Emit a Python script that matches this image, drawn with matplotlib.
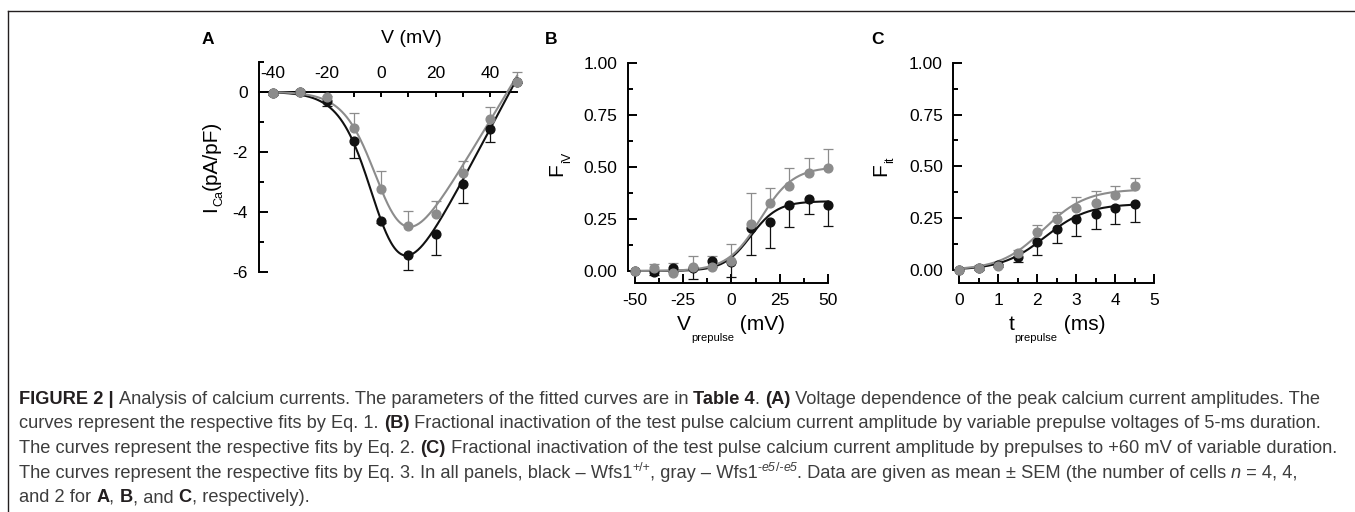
import numpy as np
import matplotlib
matplotlib.use("Agg")
import matplotlib.pyplot as plt
from matplotlib.font_manager import FontProperties
from matplotlib.lines import Line2D
from matplotlib.ticker import MultipleLocator, FixedLocator, FormatStrFormatter

# ---------------- data ----------------
# Panel A: current-voltage relation (pA/pF)
v_step = [-40, -30, -20, -10, 0, 10, 20, 30, 40, 50]
ica_wt = [-0.05, 0.00, -0.30, -1.65, -4.30, -5.43, -4.73, -3.08, -1.23, 0.33]
ica_wt_err = [0.05, 0.05, 0.17, 0.57, 0.08, 0.50, 0.70, 0.64, 0.45, 0.05]
ica_mut = [-0.05, 0.00, -0.18, -1.20, -3.24, -4.48, -4.08, -2.70, -0.91, 0.33]
ica_mut_err = [0.05, 0.05, 0.05, 0.48, 0.60, 0.51, 0.44, 0.38, 0.41, 0.34]
# fit parameters (Eq. 1): G, Vrev, V1/2, k
iv_fit_wt = [0.17, 47.4, -0.8, 6.0]
iv_fit_mut = [0.15, 46.5, 0.8, 6.0]

# Panel B: fractional inactivation vs prepulse voltage
v_pre = [-50, -40, -30, -20, -10, 0, 10, 20, 30, 40, 50]
fiv_wt = [0.000, -0.006, 0.016, 0.015, 0.048, 0.045, 0.205, 0.237, 0.317, 0.346, 0.318]
fiv_wt_err = [0.0, 0.015, 0.020, 0.055, 0.028, 0.075, 0.128, 0.128, 0.107, 0.071, 0.102]
fiv_mut = [0.000, 0.013, -0.011, 0.020, 0.020, 0.048, 0.224, 0.325, 0.410, 0.472, 0.493]
fiv_mut_err = [0.0, 0.022, 0.050, 0.052, 0.050, 0.080, 0.149, 0.072, 0.084, 0.070, 0.091]
# fit parameters (Eq. 2): Fmax, V1/2, k
fiv_fit_wt = [0.335, 10.0, 7.0]
fiv_fit_mut = [0.50, 15.0, 8.5]

# Panel C: fractional inactivation vs prepulse duration
t_pre = [0.0, 0.5, 1.0, 1.5, 2.0, 2.5, 3.0, 3.5, 4.0, 4.5]
fit_wt = [0.000, 0.008, 0.025, 0.061, 0.133, 0.196, 0.244, 0.268, 0.300, 0.317]
fit_wt_err = [0.0, 0.010, 0.012, 0.021, 0.061, 0.067, 0.080, 0.068, 0.080, 0.084]
fit_mut = [0.000, 0.011, 0.018, 0.080, 0.182, 0.246, 0.297, 0.325, 0.362, 0.405]
fit_mut_err = [0.0, 0.013, 0.010, 0.018, 0.035, 0.035, 0.053, 0.058, 0.043, 0.037]
# fit parameters (Eq. 3): Fmax, t1/2, k
ft_fit_wt = [0.32, 2.2, 0.55]
ft_fit_mut = [0.39, 2.15, 0.55]

# ---------------- style ----------------
W, H = 1355, 512
plt.rcParams['font.family'] = ['Liberation Sans', 'DejaVu Sans']
plt.rcParams['mathtext.fontset'] = 'custom'
plt.rcParams['mathtext.rm'] = 'Liberation Sans'
plt.rcParams['mathtext.it'] = 'Liberation Sans:italic'
plt.rcParams['mathtext.bf'] = 'Liberation Sans:bold'
plt.rcParams['axes.unicode_minus'] = False

BLACK = '#111111'
GRAY = '#8c8c8c'
TXT = '#3d3d3d'
BOLDTXT = '#231f20'
SPINE_W = 1.4
TICK_FS = 12.5
LABEL_FS = 15

fig = plt.figure(figsize=(W / 100, H / 100), dpi=100)
renderer = fig.canvas.get_renderer()


def px_axes(left, top, right, bottom):
    return fig.add_axes([left / W, 1 - bottom / H, (right - left) / W, (bottom - top) / H])


def iv_model(v, p):
    g, vrev, vh, k = p
    return g * (v - vrev) / (1 + np.exp((vh - v) / k))


def boltz(x, p):
    fmax, xh, k = p
    return fmax / (1 + np.exp((xh - x) / k))


def draw_series(ax, x, y, err, color, up, z):
    x = np.asarray(x, float)
    y = np.asarray(y, float)
    e = np.asarray(err, float)
    m = e > 0
    end = y + e if up else y - e
    ax.vlines(x[m], y[m], end[m], colors=color, lw=0.9, zorder=z, clip_on=False)
    ax.plot(x[m], end[m], ls='none', marker='_', ms=7.5, mew=0.9, color=color,
            zorder=z, clip_on=False)


def draw_points(ax, x, y, color, z):
    ax.plot(x, y, ls='none', marker='o', ms=6.3, color=color, mec=color, zorder=z,
            clip_on=False)


def seg_width(s, fp):
    w1 = renderer.get_text_width_height_descent("|" + s + "|", fp, ismath=False)[0]
    w0 = renderer.get_text_width_height_descent("||", fp, ismath=False)[0]
    return w1 - w0


def draw_rich(segs, x0, y0, align='left', rot=0):
    widths = [seg_width(s['t'], s['fp']) for s in segs]
    total = sum(widths)
    along = -total / 2 if align == 'center' else 0.0
    for s, w in zip(segs, widths):
        perp = s.get('dy', 0.0)
        if rot == 0:
            px, py = x0 + along, y0 - perp
        else:
            px, py = x0 - perp, y0 - along
        fig.text(px / W, 1 - py / H, s['t'], fontproperties=s['fp'], color=s.get('c', 'black'),
                 ha='left', va='baseline', rotation=rot, rotation_mode='anchor')
        along += w
    return total


def fp(size, weight='normal', style='normal', family='Liberation Sans'):
    return FontProperties(family=[family, 'DejaVu Sans'], size=size, weight=weight, style=style)


def style_ticks(ax):
    ax.tick_params(which='both', direction='in', width=SPINE_W, labelsize=TICK_FS,
                   colors='black')
    ax.tick_params(which='major', length=6.5)
    ax.tick_params(which='minor', length=3.6)
    for sp in ax.spines.values():
        sp.set_linewidth(SPINE_W)
    ax.patch.set_alpha(0)


# ---------------- figure frame ----------------
fig.add_artist(Line2D([8 / W, 1.0], [1 - 11 / H, 1 - 11 / H], transform=fig.transFigure,
                      color='#231f20', lw=1.0))
fig.add_artist(Line2D([8 / W, 8 / W], [1 - 11 / H, 0.0], transform=fig.transFigure,
                      color='#231f20', lw=1.0))

# ---------------- panel A ----------------
axA = px_axes(259, 61.7, 517, 271.7)
axA.set_xlim(-45, 50)
axA.set_ylim(-6, 1)
axA.spines['right'].set_visible(False)
axA.spines['bottom'].set_visible(False)
axA.spines['top'].set_position(('data', 0))
axA.xaxis.set_ticks_position('top')
axA.xaxis.set_major_locator(FixedLocator([-40, -20, 0, 20, 40]))
axA.xaxis.set_minor_locator(FixedLocator([-30, -10, 10, 30]))
axA.yaxis.set_major_locator(FixedLocator([-6, -4, -2, 0]))
axA.yaxis.set_minor_locator(FixedLocator([-5, -3, -1, 1]))
style_ticks(axA)
axA.tick_params(axis='x', which='both', length=3.8, pad=7.5)
axA.tick_params(axis='y', pad=8)

vv = np.linspace(-40, 50, 300)
draw_series(axA, v_step, ica_wt, ica_wt_err, BLACK, False, 2)
draw_series(axA, v_step, ica_mut, ica_mut_err, GRAY, True, 2)
axA.plot(vv, iv_model(vv, iv_fit_wt), color=BLACK, lw=1.5, zorder=3, clip_on=False)
axA.plot(vv, iv_model(vv, iv_fit_mut), color=GRAY, lw=1.5, zorder=3, clip_on=False)
draw_points(axA, v_step, ica_wt, BLACK, 4)
draw_points(axA, v_step, ica_mut, GRAY, 5)

# ---------------- panel B ----------------
axB = px_axes(628, 62.7, 834, 283)
axB.set_xlim(-53.45, 53.1)
axB.set_ylim(-0.0576, 1.0)
axB.spines['right'].set_visible(False)
axB.spines['top'].set_visible(False)
axB.spines['left'].set_bounds(0, 1)
axB.spines['bottom'].set_bounds(-50, 50)
axB.xaxis.set_major_locator(MultipleLocator(25))
axB.xaxis.set_minor_locator(MultipleLocator(12.5))
axB.yaxis.set_major_locator(FixedLocator([0, 0.25, 0.5, 0.75, 1.0]))
axB.yaxis.set_minor_locator(FixedLocator([0.125, 0.375, 0.625, 0.875]))
axB.yaxis.set_major_formatter(FormatStrFormatter('%.2f'))
style_ticks(axB)
axB.tick_params(axis='x', pad=7)
axB.tick_params(axis='y', pad=7.5)

xb = np.linspace(-50, 50, 300)
draw_series(axB, v_pre, fiv_wt, fiv_wt_err, BLACK, False, 2)
draw_series(axB, v_pre, fiv_mut, fiv_mut_err, GRAY, True, 2)
axB.plot(xb, boltz(xb, fiv_fit_wt), color=BLACK, lw=1.5, zorder=3)
axB.plot(xb, boltz(xb, fiv_fit_mut), color=GRAY, lw=1.5, zorder=3)
draw_points(axB, v_pre, fiv_wt, BLACK, 4)
draw_points(axB, v_pre, fiv_mut, GRAY, 5)

# ---------------- panel C ----------------
axC = px_axes(953.3, 62.7, 1160, 283.3)
axC.set_xlim(-0.154, 5.146)
axC.set_ylim(-0.064, 1.0)
axC.spines['right'].set_visible(False)
axC.spines['top'].set_visible(False)
axC.spines['left'].set_bounds(0, 1)
axC.spines['bottom'].set_bounds(0, 5)
axC.xaxis.set_major_locator(MultipleLocator(1))
axC.xaxis.set_minor_locator(MultipleLocator(0.5))
axC.yaxis.set_major_locator(FixedLocator([0, 0.25, 0.5, 0.75, 1.0]))
axC.yaxis.set_minor_locator(FixedLocator([0.125, 0.375, 0.625, 0.875]))
axC.yaxis.set_major_formatter(FormatStrFormatter('%.2f'))
style_ticks(axC)
axC.tick_params(axis='x', pad=7)
axC.tick_params(axis='y', pad=7.5)

xc = np.linspace(0, 4.5, 300)
draw_series(axC, t_pre, fit_wt, fit_wt_err, BLACK, False, 2)
draw_series(axC, t_pre, fit_mut, fit_mut_err, GRAY, True, 2)
axC.plot(xc, boltz(xc, ft_fit_wt), color=BLACK, lw=1.5, zorder=3)
axC.plot(xc, boltz(xc, ft_fit_mut), color=GRAY, lw=1.5, zorder=3)
draw_points(axC, t_pre, fit_wt, BLACK, 4)
draw_points(axC, t_pre, fit_mut, GRAY, 5)

# ---------------- panel letters and axis labels ----------------
for letter, x in (('A', 207.5), ('B', 551.5), ('C', 878)):
    fig.text(x / W, 1 - 39 / H, letter, fontsize=12.5, fontweight='bold', ha='center',
             va='center', color='black')

fig.text(411 / W, 1 - 38.5 / H, 'V (mV)', fontsize=14, ha='center', va='center')

big = fp(LABEL_FS)
small = fp(9)
draw_rich([dict(t='I', fp=big), dict(t='Ca', fp=small, dy=-6), dict(t='(pA/pF)', fp=big)],
          216.5, 166, align='center', rot=90)
draw_rich([dict(t='F', fp=big), dict(t='iV', fp=small, dy=-8)],
          562, 163.5, align='center', rot=90)
draw_rich([dict(t='F', fp=big), dict(t='it', fp=small, dy=-7)],
          886.5, 166, align='center', rot=90)

sub = fp(8)
draw_rich([dict(t='V', fp=big), dict(t='prepulse', fp=sub, dy=-11), dict(t=' (mV)', fp=big)],
          731, 330, align='center')
draw_rich([dict(t='t', fp=big), dict(t='prepulse', fp=sub, dy=-11), dict(t=' (ms)', fp=big)],
          1057, 330, align='center')

# ---------------- caption ----------------
def caption_line(size):
    R = dict(fp=fp(size), c=TXT)
    B = dict(fp=fp(size, weight='bold'), c=BOLDTXT)
    I = dict(fp=fp(size, style='italic'), c=TXT)
    S = dict(fp=fp(size * 0.68), c=TXT, dy=size * 100 / 72 * 0.40)
    SI = dict(fp=fp(size * 0.68, style='italic'), c=TXT, dy=size * 100 / 72 * 0.40)

    def mk(t, st):
        d = dict(st)
        d['t'] = t
        return d

    lines = [
        [mk('FIGURE 2 | ', B),
         mk('Analysis of calcium currents. The parameters of the fitted curves are in ', R),
         mk('Table 4', B), mk('. ', R), mk('(A)', B),
         mk(' Voltage dependence of the peak calcium current amplitudes. The', R)],
        [mk('curves represent the respective fits by Eq. 1. ', R), mk('(B)', B),
         mk(' Fractional inactivation of the test pulse calcium current amplitude by variable '
            'prepulse voltages of 5-ms duration.', R)],
        [mk('The curves represent the respective fits by Eq. 2. ', R), mk('(C)', B),
         mk(' Fractional inactivation of the test pulse calcium current amplitude by prepulses '
            'to +60 mV of variable duration.', R)],
        [mk('The curves represent the respective fits by Eq. 3. In all panels, black \u2013 Wfs1', R),
         mk('+/+', S), mk(', gray \u2013 Wfs1', R), mk('-', S), mk('e5', SI), mk('/-', S),
         mk('e5', SI),
         mk('. Data are given as mean \u00b1 SEM (the number of cells ', R), mk('n', I),
         mk(' = 4, 4,', R)],
        [mk('and 2 for ', R), mk('A', B), mk(', ', R), mk('B', B), mk(', and ', R), mk('C', B),
         mk(', respectively).', R)],
    ]
    return lines


# caption size chosen so lines 2-4 end near their reference right edges
base = 12.0
base_lines = caption_line(base)
line_ends = {1: 1310, 2: 1328, 3: 1318}
sizes = []
for idx, xend in line_ends.items():
    w = sum(seg_width(s['t'], s['fp']) for s in base_lines[idx])
    sizes.append(base * (xend - 19) / w)
cap_size = float(np.mean(sizes))

cap_lines = caption_line(cap_size)
baselines = [404, 428.5, 453, 478, 502.5]
for segs, yb in zip(cap_lines, baselines):
    draw_rich(segs, 19, yb)

fig.savefig('out.png', dpi=100)
